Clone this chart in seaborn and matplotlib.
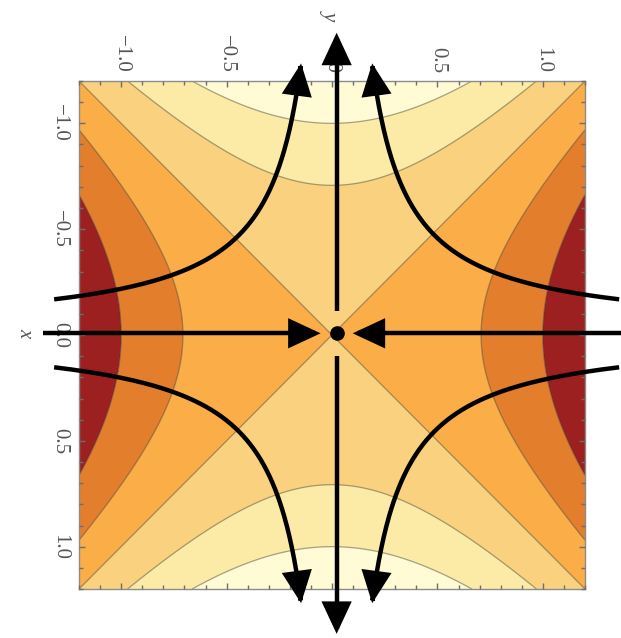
import numpy as np
import matplotlib
matplotlib.use("Agg")
import matplotlib.pyplot as plt
import seaborn as sns
from matplotlib.patches import FancyArrowPatch
from matplotlib.path import Path

sns.set_style("white")
plt.rcParams["font.family"] = ["Liberation Serif", "DejaVu Serif"]

# Saddle field f(h, v) = h^2 - v^2, h horizontal, v vertical (downwards)
axis_limit = 1.2
contour_levels = [-1.0, -0.5, 0.0, 0.5, 1.0]
band_colors = ["#FFFBD5", "#FCEBA6", "#F9D17F", "#FBAD47", "#E37E2C", "#9C2020"]

tick_values = [-1.0, -0.5, 0.0, 0.5, 1.0]
tick_labels = ["\u22121.0", "\u22120.5", "0.0", "0.5", "1.0"]
minor_tick_values = [round(-1.2 + 0.1 * i, 2) for i in range(25)]

# Trajectories of h' = -h, v' = v  (h * v = const)
trajectory_const = 0.215
trajectory_start_h = 1.34
trajectory_end_v = 1.275
axis_arrow_h = (1.394, 0.076)   # outer end, arrow tip
axis_arrow_v = (1.42, 0.105)    # arrow tip, inner end of gap
flow_center = (0.022, -0.008)

fig = plt.figure(figsize=(6.21, 6.38), dpi=100)
ax = fig.add_axes([79 / 621, 1 - 589 / 638, (585 - 79) / 621, (589 - 81) / 638])
ax.set_axisbelow(False)

grid = np.linspace(-axis_limit, axis_limit, 500)
H, V = np.meshgrid(grid, grid)
F = H ** 2 - V ** 2

palette = sns.color_palette(band_colors)
bounds = [-10.0] + contour_levels + [10.0]
ax.contourf(H, V, F, levels=bounds, colors=palette, antialiased=True)
ax.contour(H, V, F, levels=contour_levels, colors="#3a3a2a", linewidths=0.9,
           alpha=0.45, linestyles="solid")

ax.set_xlim(-axis_limit, axis_limit)
ax.set_ylim(axis_limit, -axis_limit)

arrow_style = "-|>,head_length=0.9,head_width=0.42"
lw = 3.2


def arrow_path(hs, vs):
    cx, cy = flow_center
    pts = np.column_stack([np.asarray(hs) + cx, np.asarray(vs) + cy])
    patch = FancyArrowPatch(path=Path(pts), arrowstyle=arrow_style, mutation_scale=20,
                            color="black", linewidth=lw, clip_on=False, zorder=5,
                            joinstyle="miter", capstyle="butt")
    ax.add_patch(patch)


# hyperbolic trajectories in the four quadrants
end_h = trajectory_const / trajectory_end_v
t = np.linspace(0.0, np.log(trajectory_start_h / end_h), 200)
h_vals = trajectory_start_h * np.exp(-t)
v_vals = trajectory_const / h_vals
for sh in (-1, 1):
    for sv in (-1, 1):
        arrow_path(sh * h_vals, sv * v_vals)

# stable direction: horizontal arrows pointing in
for sh in (-1, 1):
    arrow_path([sh * axis_arrow_h[0], sh * axis_arrow_h[1]], [0.0, 0.0])
# unstable direction: vertical arrows pointing out
for sv in (-1, 1):
    arrow_path([0.0, 0.0], [sv * axis_arrow_v[1], sv * axis_arrow_v[0]])

ax.plot([flow_center[0]], [flow_center[1]], "o", ms=9.5, color="black",
        clip_on=False, zorder=6)

# frame and ticks
for sp in ax.spines.values():
    sp.set_color("#8c8c8c")
    sp.set_linewidth(1.0)
    sp.set_visible(True)

ax.set_xticks(tick_values)
ax.set_xticklabels(tick_labels, rotation=-90, ha="center", va="bottom")
ax.set_yticks(tick_values)
ax.set_yticklabels(tick_labels, rotation=-90, ha="right", va="center")
ax.set_xticks(minor_tick_values, minor=True)
ax.set_yticks(minor_tick_values, minor=True)
ax.tick_params(axis="x", which="both", direction="in", top=True, bottom=True,
               labeltop=True, labelbottom=False, color="#6e6e6e", width=1.0)
ax.tick_params(axis="y", which="both", direction="in", left=True, right=True,
               labelleft=True, labelright=False, color="#6e6e6e", width=1.0)
ax.tick_params(which="major", length=4.5, labelsize=15, labelcolor="#555555")
ax.tick_params(axis="x", which="major", pad=6)
ax.tick_params(axis="y", which="major", pad=7)
ax.tick_params(which="minor", length=2.8)

fig.text(25 / 621, 1 - 333 / 638, "x", rotation=-90, fontsize=15, style="italic",
         color="#555555", ha="center", va="center")
fig.text(330 / 621, 1 - 15 / 638, "y", rotation=-90, fontsize=15, style="italic",
         color="#555555", ha="center", va="center")

fig.savefig("out.png", dpi=100)
